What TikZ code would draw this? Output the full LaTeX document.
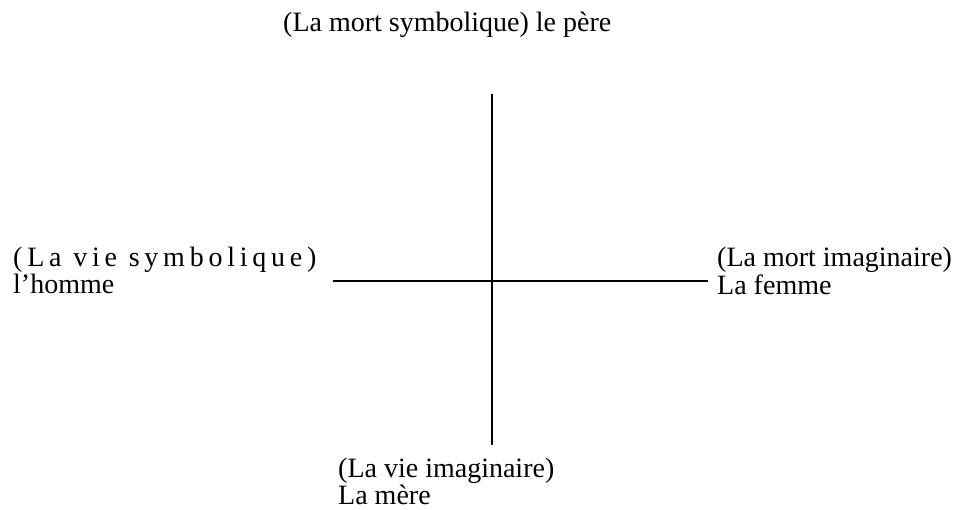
\documentclass[tikz,border=0pt]{standalone}
\usepackage{fontspec}
\setmainfont{Liberation Serif}
\newfontfamily\spacedfont[LetterSpace=17]{Liberation Serif}
\begin{document}
\begin{tikzpicture}[x=1pt,y=-1pt,
  lbl/.style={anchor=base west, inner sep=0pt, font=\fontsize{28}{30}\selectfont},
  axisline/.style={line width=1.5pt, black}]
\useasboundingbox (0,0) rectangle (954,510);
\node[lbl] (top) at (283,32) {(La mort symbolique) le père};
\node[lbl, font=\fontsize{28}{30}\spacedfont] (ls1) at (13,267) {(La vie symbolique)};
\node[lbl] (ls2) at (13,294) {l’homme};
\node[lbl] (rm1) at (717,267) {(La mort imaginaire)};
\node[lbl] (rm2) at (717,295) {La femme};
\node[lbl] (bv1) at (338,478) {(La vie imaginaire)};
\node[lbl] (bv2) at (338,505) {La mère};
\coordinate (vt) at (492,94);
\coordinate (vb) at (492,445);
\coordinate (hl) at (333,281);
\coordinate (hr) at (708,281);
\draw[axisline] (vt) -- (vb);
\draw[axisline] (hl) -- (hr);
\end{tikzpicture}
\end{document}
